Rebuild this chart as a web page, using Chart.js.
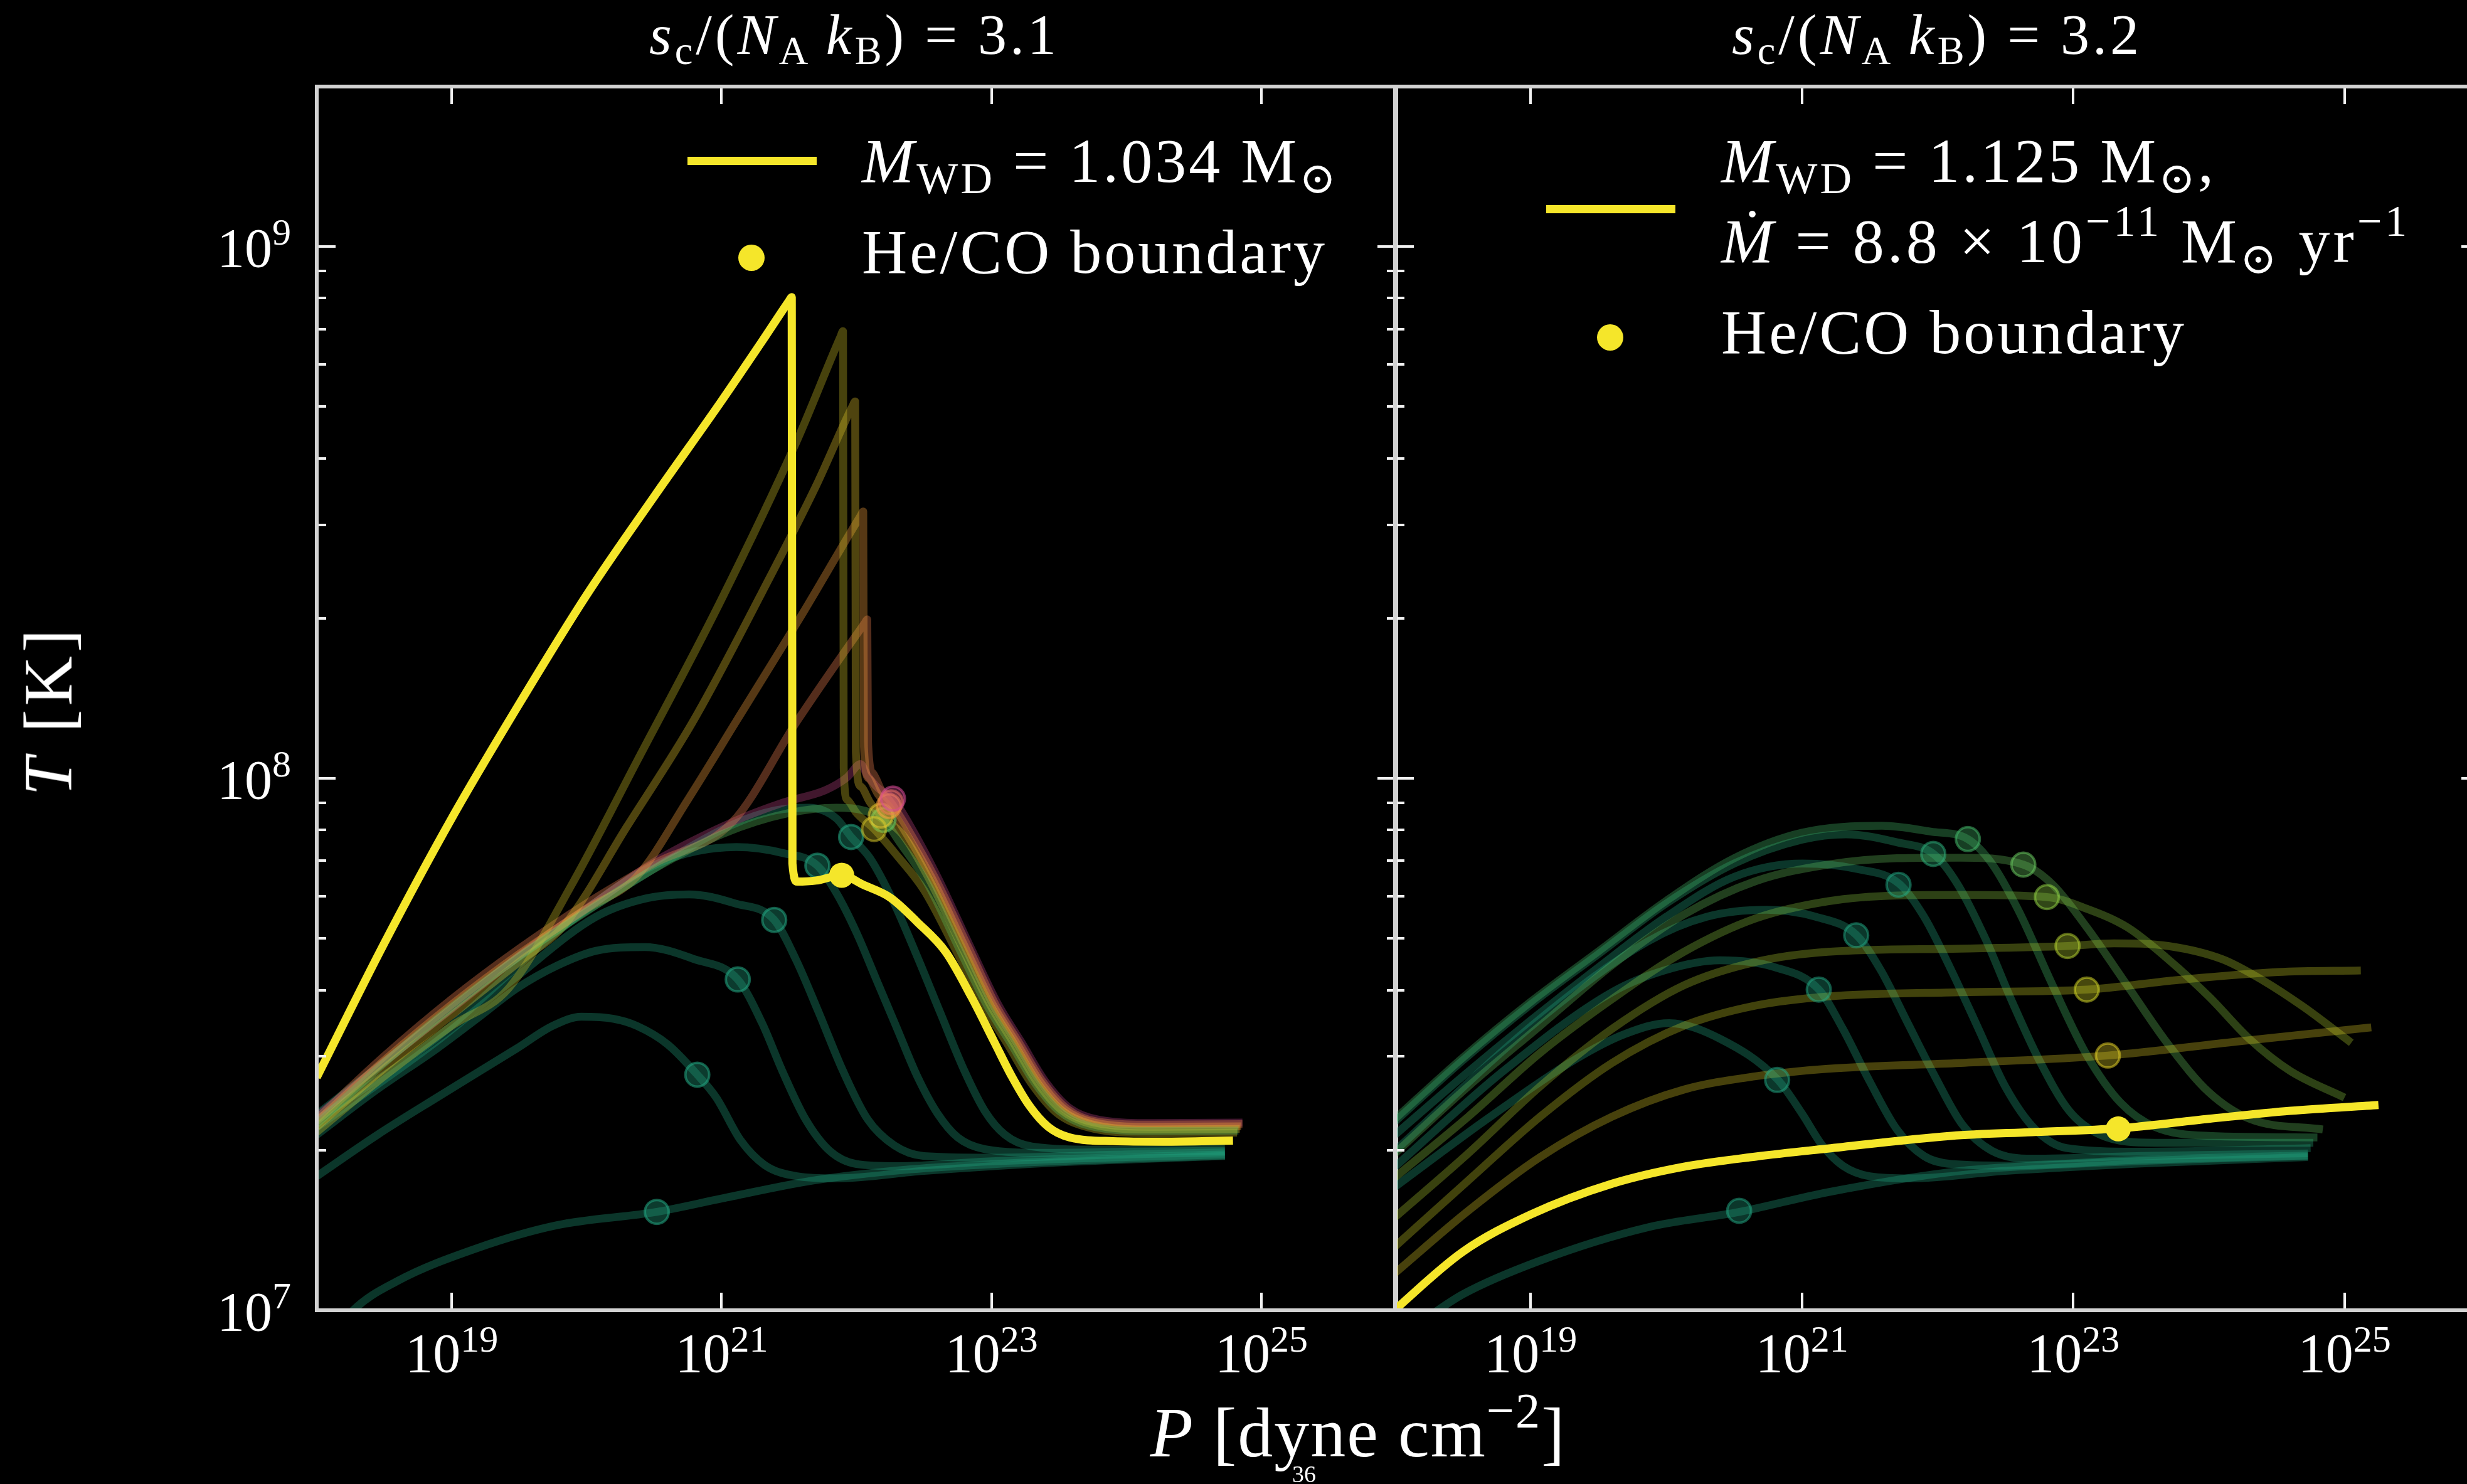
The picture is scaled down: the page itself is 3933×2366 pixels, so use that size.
<!DOCTYPE html>
<html><head><meta charset="utf-8">
<script src="https://cdn.jsdelivr.net/npm/chart.js@4.4.1/dist/chart.umd.min.js"></script>
<style>
html,body{margin:0;padding:0;background:#000;}
body{width:3933px;height:2366px;overflow:hidden;position:relative;}
canvas{position:absolute;top:0;}
#cL{left:0;} #cR{left:2100px;}
.t{position:absolute;font-family:'Liberation Serif','DejaVu Serif',serif;color:#fff;line-height:1;white-space:nowrap;}
.t sub,.t sup{font-size:0.7em;vertical-align:baseline;position:relative;line-height:0;}
.t sub{top:0.25em;}
.t sup{top:-0.6em;}
.sw{position:absolute;background:#f5e62a;}
.dot{position:absolute;background:#f5e62a;border-radius:50%;}
</style></head>
<body>
<canvas id="cL" width="2300" height="2366"></canvas>
<canvas id="cR" width="1900" height="2366"></canvas>

<div class="t" style="left:1362px;top:9px;font-size:92px;letter-spacing:5px;transform:translateX(-50%);"><i>s</i><sub>c</sub>/(<i>N</i><sub>A</sub>&#8201;<i>k</i><sub>B</sub>) = 3.1</div>
<div class="t" style="left:3088px;top:9px;font-size:92px;letter-spacing:5px;transform:translateX(-50%);"><i>s</i><sub>c</sub>/(<i>N</i><sub>A</sub>&#8201;<i>k</i><sub>B</sub>) = 3.2</div>

<div class="sw" style="left:1096px;top:250px;width:206px;height:13px;"></div>
<div class="t" style="left:1374px;top:207px;font-size:100px;letter-spacing:4px;"><i>M</i><sub>WD</sub> = 1.034 M<sub>⊙</sub></div>
<div class="dot" style="left:1177px;top:390px;width:42px;height:42px;"></div>
<div class="t" style="left:1374px;top:352px;font-size:100px;letter-spacing:4px;">He/CO boundary</div>

<div class="sw" style="left:2465px;top:327px;width:206px;height:13px;"></div>
<div class="t" style="left:2744px;top:207px;font-size:100px;letter-spacing:4px;"><i>M</i><sub>WD</sub> = 1.125 M<sub>⊙</sub>,</div>
<div class="t" style="left:2744px;top:335px;font-size:100px;letter-spacing:5px;"><i>Ṁ</i> = 8.8 × 10<sup>−11</sup> M<sub>⊙</sub> yr<sup>−1</sup></div>
<div class="dot" style="left:2546px;top:517px;width:42px;height:42px;"></div>
<div class="t" style="left:2744px;top:480px;font-size:100px;letter-spacing:4px;">He/CO boundary</div>

<div class="t" style="left:2165px;top:2228px;font-size:112px;letter-spacing:2px;transform:translateX(-50%);"><i>P</i> [dyne cm<sup>−2</sup>]</div>
<div class="t" style="left:77px;top:1133px;font-size:110px;letter-spacing:6px;transform:translate(-50%,-50%) rotate(-90deg);"><i>T</i> [K]</div>
<div class="t" style="left:2060px;top:2331px;font-size:38px;">36</div>

<script>
// ---------- DATA: [log10 P (dyne cm^-2), log10 T (K)] ----------
// left panel  s_c/(N_A k_B) = 3.1
const leftLow = [[18.15,6.96],[18.27,7.0],[18.59,7.054],[19.19,7.117],[19.78,7.16],[20.52,7.185],[21.0,7.21],[21.68,7.244],[22.4,7.265],[23.1,7.276],[24.0,7.285],[24.73,7.291]];
const leftT1 = [[18.0,7.252],[18.45,7.33],[18.89,7.40],[19.48,7.492],[19.75,7.535],[19.96,7.552],[20.2,7.548],[20.37,7.535],[20.6,7.50],[20.82,7.443],[20.96,7.40],[21.14,7.32],[21.32,7.273],[21.56,7.252],[21.85,7.248],[22.5,7.262],[23.5,7.278],[24.73,7.29]];
const leftT2 = [[18.0,7.33],[18.44,7.414],[18.89,7.492],[19.19,7.549],[19.48,7.605],[19.78,7.648],[20.07,7.676],[20.43,7.683],[20.8,7.66],[21.12,7.622],[21.30,7.54],[21.45,7.45],[21.62,7.36],[21.80,7.30],[22.0,7.275],[22.3,7.271],[23.0,7.28],[24.0,7.288],[24.73,7.293]];
const leftT3 = [[18.0,7.344],[18.89,7.506],[19.48,7.627],[20.07,7.74],[20.45,7.775],[20.76,7.782],[21.1,7.765],[21.39,7.734],[21.55,7.66],[21.72,7.56],[21.90,7.45],[22.08,7.36],[22.28,7.31],[22.5,7.29],[23.0,7.287],[24.0,7.293],[24.73,7.297]];
const leftT4 = [[18.0,7.358],[18.89,7.513],[19.78,7.711],[20.52,7.839],[21.11,7.871],[21.45,7.86],[21.71,7.836],[21.85,7.785],[22.0,7.71],[22.15,7.62],[22.3,7.53],[22.45,7.44],[22.6,7.37],[22.75,7.325],[22.95,7.303],[23.4,7.296],[24.0,7.298],[24.73,7.30]];
const leftT5 = [[18.0,7.368],[18.59,7.485],[19.48,7.662],[20.37,7.81],[21.08,7.913],[21.4,7.94],[21.65,7.945],[21.85,7.925],[21.96,7.89],[22.1,7.85],[22.27,7.77],[22.45,7.665],[22.62,7.56],[22.80,7.45],[22.95,7.375],[23.1,7.33],[23.3,7.308],[23.8,7.302],[24.73,7.305]];
const leftG6 = [[18.0,7.35],[18.5,7.465],[19.0,7.57],[19.5,7.665],[20.0,7.75],[20.5,7.83],[21.0,7.895],[21.5,7.935],[21.85,7.945],[22.05,7.94],[22.2,7.922],[22.32,7.88],[22.52,7.805],[22.77,7.675],[22.97,7.572],[23.14,7.503],[23.32,7.428],[23.50,7.375],[23.72,7.347],[24.2,7.337],[24.83,7.338]];
const leftI1 = [[18.0,7.335],[18.5,7.44],[19.0,7.535],[19.42,7.605],[19.9,7.805],[20.37,8.031],[20.99,8.332],[21.555,8.633],[21.88,8.83],[21.90,8.841],[21.905,8.02],[21.93,7.96],[22.0,7.935],[22.13,7.905],[22.30,7.855],[22.50,7.79],[22.75,7.67],[22.95,7.57],[23.12,7.50],[23.30,7.425],[23.48,7.372],[23.70,7.345],[24.2,7.333],[24.82,7.334]];
const leftI2 = [[18.0,7.345],[18.5,7.455],[19.0,7.555],[19.5,7.655],[19.84,7.726],[20.3,7.91],[20.79,8.108],[21.3,8.35],[21.7,8.55],[21.97,8.70],[21.99,8.709],[21.995,8.05],[22.03,7.985],[22.1,7.955],[22.18,7.93],[22.34,7.895],[22.54,7.81],[22.79,7.678],[22.99,7.574],[23.16,7.504],[23.34,7.428],[23.52,7.376],[23.74,7.35],[24.2,7.34],[24.84,7.341]];
const leftI3 = [[18.0,7.355],[18.5,7.47],[19.0,7.575],[19.5,7.67],[20.0,7.755],[20.37,7.815],[20.75,7.96],[21.11,8.108],[21.6,8.31],[22.03,8.494],[22.05,8.502],[22.055,8.06],[22.09,8.00],[22.16,7.97],[22.24,7.948],[22.36,7.90],[22.56,7.812],[22.81,7.68],[23.01,7.575],[23.18,7.505],[23.36,7.43],[23.54,7.378],[23.76,7.353],[24.2,7.345],[24.85,7.346]];
const leftI4 = [[18.0,7.36],[18.5,7.478],[19.0,7.585],[19.5,7.68],[20.0,7.765],[20.5,7.84],[21.08,7.918],[21.56,8.108],[22.06,8.292],[22.08,8.299],[22.085,8.07],[22.12,8.01],[22.19,7.975],[22.255,7.955],[22.38,7.905],[22.58,7.814],[22.83,7.682],[23.03,7.575],[23.20,7.505],[23.38,7.43],[23.56,7.379],[23.78,7.355],[24.2,7.349],[24.86,7.35]];
const leftPk = [[18.0,7.365],[18.59,7.485],[19.19,7.605],[19.66,7.697],[20.07,7.768],[20.52,7.846],[21.08,7.918],[21.46,7.955],[21.77,7.978],[21.93,8.002],[22.03,8.027],[22.08,8.006],[22.16,7.982],[22.27,7.962],[22.4,7.91],[22.6,7.815],[22.85,7.68],[23.05,7.575],[23.22,7.505],[23.4,7.43],[23.58,7.38],[23.8,7.358],[24.2,7.352],[24.86,7.353]];
const leftHi = [[18.0,7.438],[18.5,7.69],[19.0,7.925],[19.5,8.14],[20.0,8.345],[20.5,8.53],[21.0,8.71],[21.3,8.822],[21.5,8.898],[21.52,8.905],[21.525,7.84],[21.56,7.806],[21.7,7.808],[21.89,7.818],[22.05,7.80],[22.25,7.776],[22.45,7.73],[22.66,7.674],[22.85,7.59],[23.02,7.505],[23.15,7.44],[23.28,7.385],[23.42,7.345],[23.58,7.325],[23.9,7.318],[24.27,7.317],[24.79,7.319]];
const leftDots = [[20.52,7.185],[20.82,7.443],[21.12,7.622],[21.39,7.734],[21.71,7.836],[21.96,7.89],[22.2,7.922],[22.13,7.905],[22.18,7.93],[22.24,7.948],[22.255,7.955],[22.27,7.962]];
const leftHiDot = [[21.89,7.818]];

// right panel  s_c/(N_A k_B) = 3.2
const rightC1 = [[18.2,6.98],[18.5,7.03],[19.067,7.093],[19.864,7.156],[20.54,7.185],[21.19,7.222],[22.17,7.262],[23.0,7.275],[24.0,7.285],[24.73,7.29]];
const rightC2 = [[18.0,7.232],[18.67,7.358],[19.33,7.472],[19.7,7.52],[20.02,7.54],[20.4,7.51],[20.82,7.434],[21.0,7.37],[21.15,7.31],[21.3,7.272],[21.5,7.252],[21.8,7.248],[22.5,7.262],[23.5,7.276],[24.73,7.288]];
const rightC3 = [[18.0,7.27],[18.8,7.45],[19.6,7.598],[20.0,7.64],[20.395,7.658],[20.8,7.645],[21.125,7.603],[21.3,7.53],[21.5,7.43],[21.7,7.34],[21.9,7.29],[22.1,7.275],[22.5,7.272],[23.5,7.283],[24.73,7.291]];
const rightC4 = [[18.0,7.30],[19.07,7.548],[19.86,7.693],[20.3,7.74],[20.74,7.753],[21.1,7.74],[21.40,7.706],[21.58,7.64],[21.78,7.54],[21.98,7.44],[22.18,7.35],[22.4,7.30],[22.7,7.285],[23.5,7.29],[24.73,7.295]];
const rightC5 = [[18.0,7.33],[18.5,7.44],[19.0,7.545],[19.5,7.645],[20.0,7.74],[20.5,7.815],[21.005,7.84],[21.4,7.83],[21.717,7.802],[21.9,7.74],[22.1,7.64],[22.3,7.53],[22.5,7.42],[22.72,7.34],[22.95,7.305],[23.5,7.298],[24.75,7.305]];
const rightC6 = [[18.0,7.355],[18.5,7.47],[19.0,7.575],[19.5,7.67],[20.0,7.765],[20.5,7.84],[21.0,7.885],[21.324,7.895],[21.7,7.88],[21.975,7.857],[22.15,7.80],[22.35,7.70],[22.55,7.58],[22.75,7.47],[22.97,7.375],[23.2,7.33],[23.6,7.315],[24.77,7.315]];
const rightC7 = [[18.0,7.36],[18.5,7.475],[19.0,7.58],[19.5,7.675],[20.0,7.77],[20.5,7.85],[21.0,7.898],[21.59,7.911],[21.95,7.90],[22.223,7.886],[22.4,7.84],[22.6,7.75],[22.85,7.61],[23.1,7.48],[23.35,7.39],[23.6,7.345],[24.0,7.328],[24.8,7.325]];
const rightC8 = [[18.0,7.295],[18.54,7.421],[19.07,7.535],[19.6,7.649],[20.13,7.744],[20.66,7.807],[21.19,7.838],[21.7,7.85],[22.17,7.851],[22.632,7.838],[22.85,7.80],[23.1,7.72],[23.4,7.61],[23.7,7.50],[24.0,7.41],[24.3,7.36],[24.84,7.34]];
const rightC9 = [[18.0,7.25],[18.54,7.364],[19.07,7.484],[19.6,7.585],[20.13,7.674],[20.66,7.737],[21.19,7.769],[21.7,7.78],[22.17,7.781],[22.806,7.777],[23.1,7.755],[23.4,7.72],[23.7,7.66],[24.0,7.59],[24.3,7.51],[24.6,7.45],[25.0,7.40]];
const rightC10 = [[18.0,7.175],[18.54,7.295],[19.07,7.421],[19.6,7.529],[20.13,7.611],[20.66,7.655],[21.19,7.674],[22.17,7.68],[22.958,7.685],[23.3,7.69],[23.7,7.685],[24.1,7.66],[24.4,7.62],[24.7,7.57],[25.05,7.503]];
const rightC11 = [[18.0,7.12],[18.54,7.244],[19.07,7.364],[19.6,7.465],[20.13,7.535],[20.66,7.573],[21.19,7.59],[22.17,7.598],[23.10,7.603],[23.77,7.621],[24.51,7.636],[25.12,7.639]];
const rightC12 = [[18.0,7.07],[18.54,7.187],[19.07,7.288],[19.6,7.364],[20.13,7.415],[20.66,7.44],[21.19,7.454],[22.17,7.465],[23.255,7.479],[24.2,7.505],[25.197,7.532]];
const rightHi = [[17.95,6.99],[18.5,7.11],[19.0,7.18],[19.6,7.238],[20.13,7.27],[20.66,7.289],[21.19,7.304],[22.1,7.328],[22.7,7.335],[23.33,7.342],[24.0,7.36],[24.6,7.375],[25.25,7.386]];
const rightDots = [[20.537,7.187],[20.817,7.433],[21.124,7.603],[21.40,7.705],[21.712,7.80],[21.968,7.858],[22.223,7.886],[22.632,7.838],[22.806,7.777],[22.958,7.685],[23.10,7.603],[23.255,7.479]];
const rightHiDot = [[23.332,7.341]];

// axis ticks
const xTickExps = [19, 21, 23, 25];
const yMajorExps = [7, 8, 9];
const yMinorMant = [2, 3, 4, 5, 6, 7, 8, 9];
const xRange = [1e18, 1e26];
const yRange = [1e7, 2e9];

// ---------- STYLE ----------
const TEAL = [34,168,132], GREEN6 = [94,201,98], OLIVE1 = [215,200,40], YEL2 = [240,205,45],
      ORA3 = [245,160,60], ORA4 = [240,130,80], PINK = [215,75,150];
const RC = [[34,168,132],[34,168,132],[34,168,132],[34,168,132],[34,168,132],[45,178,125],[70,192,110],
            [110,210,100],[150,215,70],[185,215,50],[215,220,40],[235,215,40]];
const HI = '#f5e62a';
const LW = 12.5;
const rgba = (c, a) => `rgba(${c[0]},${c[1]},${c[2]},${a})`;
const toXY = arr => arr.map(([lp, lt]) => ({x: Math.pow(10, lp), y: Math.pow(10, lt)}));

function lineDs(arr, color, order, w) {
  return {type:'line', data: toXY(arr), borderColor: color, borderWidth: w || LW, pointRadius: 0,
    fill: false, cubicInterpolationMode: 'monotone', borderJoinStyle: 'round', borderCapStyle: 'butt',
    clip: 0, order: order};
}
function dotDs(arr, fills, borders, radius, bw, order) {
  return {type:'line', data: toXY(arr), showLine: false, pointRadius: radius, pointHoverRadius: radius,
    pointBackgroundColor: fills, pointBorderColor: borders, pointBorderWidth: bw, clip: 0, order: order};
}

function framePlugin(showY) {
  return {id: 'frame', afterDraw(chart) {
    const {ctx, chartArea: a, scales: {x, y}} = chart;
    ctx.save();
    ctx.strokeStyle = '#f2f2f2'; ctx.lineWidth = 4;
    ctx.beginPath();
    xTickExps.forEach(e => {
      const px = Math.round(x.getPixelForValue(Math.pow(10, e)));
      ctx.moveTo(px, a.bottom); ctx.lineTo(px, a.bottom - 28);
      ctx.moveTo(px, a.top); ctx.lineTo(px, a.top + 28);
    });
    yMajorExps.forEach(e => {
      const base = Math.pow(10, e);
      const py = Math.round(y.getPixelForValue(base));
      ctx.moveTo(a.left, py); ctx.lineTo(a.left + 30, py);
      ctx.moveTo(a.right, py); ctx.lineTo(a.right - 30, py);
      yMinorMant.forEach(m => {
        const v = m * base;
        if (v > yRange[1] * 1.0001) return;
        const q = Math.round(y.getPixelForValue(v));
        ctx.moveTo(a.left, q); ctx.lineTo(a.left + 15, q);
        ctx.moveTo(a.right, q); ctx.lineTo(a.right - 15, q);
      });
    });
    ctx.stroke();
    ctx.strokeStyle = '#d2d2d2'; ctx.lineWidth = 6;
    ctx.strokeRect(a.left, a.top, a.right - a.left, a.bottom - a.top);
    ctx.fillStyle = '#ffffff';
    ctx.textBaseline = 'alphabetic';
    const big = '88px "Liberation Serif", "DejaVu Serif", serif';
    const small = '60px "Liberation Serif", "DejaVu Serif", serif';
    xTickExps.forEach(e => {
      const px = x.getPixelForValue(Math.pow(10, e));
      ctx.font = big; const w1 = ctx.measureText('10').width;
      ctx.font = small; const w2 = ctx.measureText(String(e)).width;
      const x0 = px - (w1 + w2) / 2;
      ctx.font = big; ctx.fillText('10', x0, a.bottom + 98);
      ctx.font = small; ctx.fillText(String(e), x0 + w1, a.bottom + 66);
    });
    if (showY) {
      yMajorExps.forEach(e => {
        const py = y.getPixelForValue(Math.pow(10, e));
        ctx.font = small; const w2 = ctx.measureText(String(e)).width;
        ctx.font = big; const w1 = ctx.measureText('10').width;
        const xr = a.left - 41;
        ctx.font = small; ctx.fillText(String(e), xr - w2, py - 3);
        ctx.font = big; ctx.fillText('10', xr - w2 - w1, py + 32);
      });
    }
    ctx.restore();
  }};
}

function makeChart(id, datasets, padding, showY) {
  return new Chart(document.getElementById(id), {
    data: {datasets},
    options: {
      responsive: false, animation: false, devicePixelRatio: 1, events: [],
      layout: {padding},
      plugins: {legend: {display: false}, tooltip: {enabled: false}},
      scales: {
        x: {type: 'logarithmic', min: xRange[0], max: xRange[1], display: false},
        y: {type: 'logarithmic', min: yRange[0], max: yRange[1], display: false}
      }
    },
    plugins: [framePlugin(showY)]
  });
}

// left panel datasets (lower order = drawn on top)
const tealL = rgba(TEAL, 0.32);
const leftSets = [
  dotDs(leftHiDot, [HI], [HI], 20, 0, 0),
  lineDs(leftHi, HI, 1, 13),
  dotDs(leftDots,
    [rgba(TEAL,.35),rgba(TEAL,.35),rgba(TEAL,.35),rgba(TEAL,.35),rgba(TEAL,.35),rgba(TEAL,.35),rgba(GREEN6,.35),rgba(OLIVE1,.3),rgba(YEL2,.3),rgba(ORA3,.35),rgba(ORA4,.35),rgba(PINK,.35)],
    [rgba(TEAL,.55),rgba(TEAL,.55),rgba(TEAL,.55),rgba(TEAL,.55),rgba(TEAL,.55),rgba(TEAL,.55),rgba(GREEN6,.55),rgba(OLIVE1,.5),rgba(YEL2,.5),rgba(ORA3,.55),rgba(ORA4,.55),rgba(PINK,.55)],
    19, 4, 2),
  lineDs(leftG6, rgba(GREEN6, 0.33), 3.0),
  lineDs(leftI1, rgba(OLIVE1, 0.33), 3.1),
  lineDs(leftI2, rgba(YEL2, 0.33), 3.2),
  lineDs(leftI3, rgba(ORA3, 0.35), 3.3),
  lineDs(leftI4, rgba(ORA4, 0.35), 3.4),
  lineDs(leftPk, rgba(PINK, 0.30), 3.5),
  lineDs(leftT5, tealL, 4),
  lineDs(leftT4, tealL, 4),
  lineDs(leftT3, tealL, 4),
  lineDs(leftT2, tealL, 4),
  lineDs(leftT1, tealL, 4),
  lineDs(leftLow, tealL, 4)
];

const rightCurves = [rightC1, rightC2, rightC3, rightC4, rightC5, rightC6, rightC7, rightC8, rightC9, rightC10, rightC11, rightC12];
const rightSets = [
  dotDs(rightHiDot, [HI], [HI], 20, 0, 0),
  lineDs(rightHi, HI, 1, 13),
  dotDs(rightDots, RC.map(c => rgba(c, .33)), RC.map(c => rgba(c, .5)), 19, 4, 2)
];
rightCurves.forEach((c, i) => rightSets.push(lineDs(c, rgba(RC[i], i >= 7 ? 0.3 : 0.32), 3 + (12 - i) * 0.01)));

makeChart('cL', leftSets, {left: 505, right: 74, top: 138, bottom: 277}, true);
makeChart('cR', rightSets, {left: 124, right: 46, top: 138, bottom: 277}, false);
</script>
</body></html>
